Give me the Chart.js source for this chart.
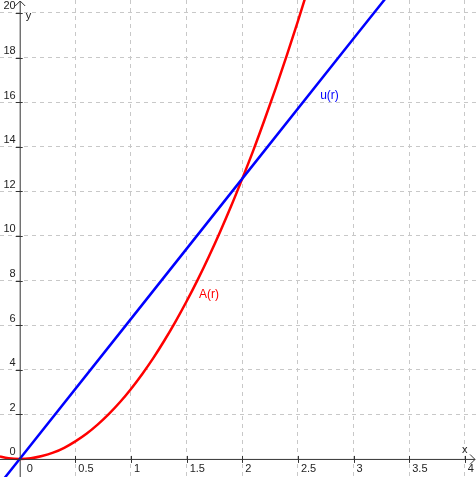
<!DOCTYPE html>
<html>
<head>
<meta charset="utf-8">
<script src="https://cdn.jsdelivr.net/npm/chart.js@4"></script>
<style>
  html, body { margin: 0; padding: 0; background: #fff; }
  canvas { display: block; }
</style>
</head>
<body>
<canvas id="chart" width="476" height="477"></canvas>
<script>
/* data */
const xTicks = [0, 0.5, 1, 1.5, 2, 2.5, 3, 3.5, 4];
const yTicks = [0, 2, 4, 6, 8, 10, 12, 14, 16, 18, 20];

const areaR = [-0.2, -0.1, 0, 0.1, 0.2, 0.3, 0.4, 0.5, 0.6, 0.7, 0.8, 0.9, 1, 1.1, 1.2, 1.3, 1.4, 1.5, 1.6, 1.7, 1.8, 1.9, 2, 2.1, 2.2, 2.3, 2.4, 2.5, 2.6];
const areaA = [0.13, 0.03, 0, 0.03, 0.13, 0.28, 0.5, 0.79, 1.13, 1.54, 2.01, 2.54, 3.14, 3.8, 4.52, 5.31, 6.16, 7.07, 8.04, 9.08, 10.18, 11.34, 12.57, 13.85, 15.21, 16.62, 18.1, 19.63, 21.24];

const circR = [-0.2, 0, 1, 2, 3, 3.4];
const circU = [-1.26, 0, 6.28, 12.57, 18.85, 21.36];

const labelU = { text: "u(r)", x: 2.7, y: 16.3 };
const labelA = { text: "A(r)", x: 1.61, y: 7.35 };

const tickFont = "11px 'Liberation Sans', Arial, sans-serif";
const labelFont = "12px 'Liberation Sans', Arial, sans-serif";

/* axes, ticks, arrows and curve names */
const axesPlugin = {
  id: "axes",
  afterDatasetsDraw(chart) {
    const c = chart.ctx;
    const xs = chart.scales.x, ys = chart.scales.y;
    const ox = xs.getPixelForValue(0), oy = ys.getPixelForValue(0);
    const { left, right, top, bottom } = chart.chartArea;
    c.save();
    c.strokeStyle = "#333";
    c.lineWidth = 1;
    c.beginPath();
    c.moveTo(left, oy + 0.5); c.lineTo(right - 1, oy + 0.5);
    c.moveTo(ox + 0.5, bottom); c.lineTo(ox + 0.5, top + 1);
    // arrows
    c.moveTo(right - 6, oy - 4.5); c.lineTo(right - 1, oy + 0.5); c.lineTo(right - 6, oy + 5.5);
    c.moveTo(ox - 4.5, top + 6); c.lineTo(ox + 0.5, top + 1); c.lineTo(ox + 5.5, top + 6);
    // small ticks
    xTicks.forEach(v => {
      if (v === 0) return;
      const px = Math.round(xs.getPixelForValue(v)) + 0.5;
      c.moveTo(px, oy - 3); c.lineTo(px, oy + 4);
    });
    yTicks.forEach(v => {
      if (v === 0) return;
      const py = Math.round(ys.getPixelForValue(v)) + 0.5;
      c.moveTo(ox - 4, py); c.lineTo(ox + 3, py);
    });
    c.stroke();

    c.fillStyle = "#222";
    c.font = tickFont;
    c.textBaseline = "top";
    c.textAlign = "left";
    xTicks.forEach(v => {
      c.fillText(String(v), xs.getPixelForValue(v) + (v === 0 ? 7 : 3), oy + 5);
    });
    c.textAlign = "right";
    c.textBaseline = "bottom";
    yTicks.forEach(v => {
      c.fillText(String(v), ox - 4, ys.getPixelForValue(v) - 1);
    });
    c.textAlign = "left";
    c.fillText("x", right - 14, oy - 3);
    c.textBaseline = "top";
    c.fillText("y", ox + 6, ys.getPixelForValue(20) - 2);

    c.font = labelFont;
    c.textBaseline = "middle";
    c.fillStyle = "#0000ff";
    c.fillText(labelU.text, xs.getPixelForValue(labelU.x), ys.getPixelForValue(labelU.y));
    c.fillStyle = "#ff0000";
    c.fillText(labelA.text, xs.getPixelForValue(labelA.x), ys.getPixelForValue(labelA.y));
    c.restore();
  }
};

const gridOpts = { color: "#c8c8c8", lineWidth: 1, drawTicks: false };

new Chart(document.getElementById("chart").getContext("2d"), {
  type: "scatter",
  data: {
    datasets: [
      {
        label: "u(r)",
        data: circR.map((r, i) => ({ x: r, y: circU[i] })),
        showLine: true, borderColor: "#0000ff", borderWidth: 2.5,
        pointRadius: 0, tension: 0
      },
      {
        label: "A(r)",
        data: areaR.map((r, i) => ({ x: r, y: areaA[i] })),
        showLine: true, borderColor: "#ff0000", borderWidth: 2.5,
        pointRadius: 0, cubicInterpolationMode: "monotone"
      }
    ]
  },
  options: {
    responsive: false,
    animation: false,
    layout: { padding: 0 },
    plugins: { legend: { display: false }, tooltip: { enabled: false } },
    scales: {
      x: {
        type: "linear", min: -0.177, max: 4.1,
        afterBuildTicks: s => { s.ticks = xTicks.filter(v => v !== 0).map(v => ({ value: v })); },
        ticks: { display: false },
        grid: gridOpts,
        border: { display: false, dash: [4, 4] }
      },
      y: {
        type: "linear", min: -0.81, max: 20.58,
        afterBuildTicks: s => { s.ticks = yTicks.filter(v => v !== 0).map(v => ({ value: v })); },
        ticks: { display: false },
        grid: gridOpts,
        border: { display: false, dash: [4, 4] }
      }
    }
  },
  plugins: [axesPlugin]
});
</script>
</body>
</html>
